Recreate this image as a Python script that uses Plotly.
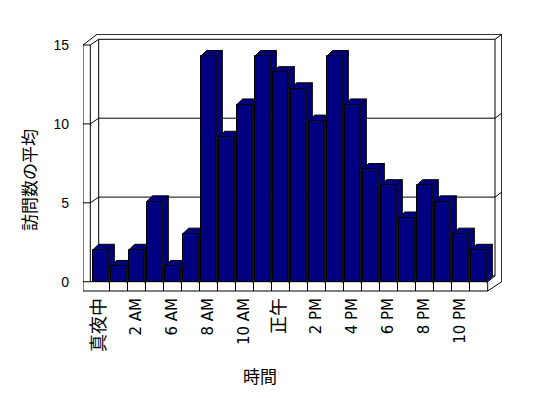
import plotly.graph_objects as go

# ---- data ----
hours = [0, 1, 2, 3, 6, 7, 8, 9, 10, 11, 12, 13, 14, 15, 16, 17, 18, 19, 20, 21, 22, 23]
visits = [2, 1, 2, 5, 1, 3, 14, 9, 11, 14, 13, 12, 10, 14, 11, 7, 6, 4, 6, 5, 3, 2]
tick_hours = [0, 2, 6, 8, 10, 12, 14, 16, 18, 20, 22]
tick_labels = ["真夜中", "2 AM", "6 AM", "8 AM", "10 AM", "正午", "2 PM", "4 PM", "6 PM", "8 PM", "10 PM"]
y_ticks = [0, 5, 10, 15]
x_title = "時間"
y_title = "訪問数の平均"

NAVY = "#000080"
OFF = 8                      # page body margin
W, H = 548 - OFF, 398 - OFF
# plot area in window pixels
PL, PT, PRR, PBB = 83, 34, 502, 292
PW, PH = PRR - PL, PBB - PT
L, T = PL - OFF, PT - OFF
R, B = W - L - PW, H - T - PH

X0PX, PITCH = 100.5, 18.0
Y0PX, YS = 281.7, 15.78          # front/tick scale
Y0PX2, YS2 = 282.3, 16.15        # bar plane (perspective) scale
def fx(p): return (p - X0PX) / PITCH
def fy(p): return (Y0PX - p) / YS

xrange_ = [fx(PL), fx(PRR)]
yrange_ = [fy(PBB), fy(PT)]
y2range_ = [(Y0PX2 - PBB) / YS2, (Y0PX2 - PT) / YS2]

idx = list(range(len(hours)))
tickvals = [hours.index(h) for h in tick_hours]

def fmt(t):
    if all(ord(c) > 0x2000 for c in t):
        return '<span style="font-size:18px">' + t + '</span>'
    return t
ticktext = [fmt(t) for t in tick_labels]

fig = go.Figure()
BW = 0.87
fig.add_trace(go.Bar(
    x=idx, y=visits, yaxis="y2", width=BW,
    marker=dict(color=NAVY, line=dict(color="black", width=1)),
    hoverinfo="x+y", showlegend=False,
))

shapes = []
def seg(x0, y0, x1, y1, yref="y"):
    shapes.append(dict(type="line", xref="x", yref=yref, x0=x0, y0=y0, x1=x1, y1=y1,
                       line=dict(color="black", width=1), layer="below"))

def pseg(p0, p1):
    seg(fx(p0[0]), fy(p0[1]), fx(p1[0]), fy(p1[1]))

OUTL, INL, BACKL, BACKR, OUTR, FRONTR = 83, 90.3, 98.7, 495, 501.7, 487.7
TOPF, TOPB, TOPO = 45, 39.3, 34.3
FLT, FLB, BACK0 = 281.7, 291, 276
pseg((OUTL, TOPF), (OUTL, FLB))
pseg((INL, TOPF), (INL, FLT))
pseg((OUTL, TOPF), (INL, TOPF))
pseg((OUTL, TOPF), (97, TOPO))
pseg((INL, TOPF), (BACKL, TOPB))
pseg((97, TOPO), (OUTR, TOPO))
pseg((BACKL, TOPB), (BACKR, TOPB))
pseg((BACKL, TOPB), (BACKL, BACK0))
pseg((BACKR, TOPB), (BACKR, BACK0))
pseg((BACKR, TOPB), (OUTR, TOPO))
pseg((OUTR, TOPO), (OUTR, FLT))
pseg((BACKL, BACK0), (BACKR, BACK0))
pseg((OUTL, FLB), (FRONTR, FLB))
pseg((OUTL, FLT), (FRONTR, FLT))
pseg((FRONTR, FLT), (FRONTR, FLB))
pseg((FRONTR, FLB), (OUTR, FLT))
pseg((FRONTR, FLT), (BACKR, BACK0))
for i in idx[:-1]:
    seg(i + 0.5, fy(FLT), i + 0.5, fy(FLB))
DYW = (Y0PX - BACK0) / YS
for v in y_ticks[1:-1]:
    seg(fx(OUTL), v, fx(INL), v)
    seg(fx(INL), v, fx(BACKL), v + DYW)
    seg(fx(BACKL), v + DYW, fx(BACKR), v + DYW)
    seg(fx(BACKR), v + DYW, fx(OUTR), v + DYW + 5 / YS)

DX = 6.0 / PITCH
DY = 5.7 / YS2
for i, v in zip(idx, visits):
    xl, xr = i - BW / 2, i + BW / 2
    side = f"M {xr},0 L {xr+DX},{DY} L {xr+DX},{v+DY} L {xr},{v} Z"
    top = f"M {xl},{v} L {xl+DX},{v+DY} L {xr+DX},{v+DY} L {xr},{v} Z"
    for p in (side, top):
        shapes.append(dict(type="path", xref="x", yref="y2", path=p, fillcolor=NAVY,
                           line=dict(color="black", width=1), layer="below"))

fig.update_layout(
    width=W, height=H,
    margin=dict(l=L, r=R, t=T, b=B, pad=0),
    paper_bgcolor="white", plot_bgcolor="white",
    font=dict(family="Liberation Sans, Arial, Noto Sans CJK JP", size=14, color="black"),
    xaxis=dict(range=xrange_, tickvals=tickvals, ticktext=ticktext, tickangle=-90,
               showgrid=False, zeroline=False, showline=False, ticks="",
               ticklabelstandoff=2, fixedrange=True,
               tickfont=dict(family="DejaVu Sans, Noto Sans CJK JP", size=15, color="black")),
    yaxis=dict(range=yrange_, tickvals=y_ticks, showgrid=False, zeroline=False,
               showline=False, ticks="", ticklabelstandoff=13, fixedrange=True),
    yaxis2=dict(range=y2range_, overlaying="y", visible=False, fixedrange=True),
    shapes=shapes,
    bargap=0,
    annotations=[
        dict(text=y_title, xref="paper", yref="paper", x=(28 - PL) / PW, y=(PBB - 180) / PH,
             xanchor="center", yanchor="middle", textangle=-90, showarrow=False,
             font=dict(family="Noto Sans CJK JP", size=17, color="black")),
        dict(text=x_title, xref="paper", yref="paper", x=(259.5 - PL) / PW, y=(PBB - 375) / PH,
             xanchor="center", yanchor="middle", showarrow=False,
             font=dict(family="Noto Sans CJK JP", size=17, color="black")),
    ],
)

fig.write_html("out.html")
